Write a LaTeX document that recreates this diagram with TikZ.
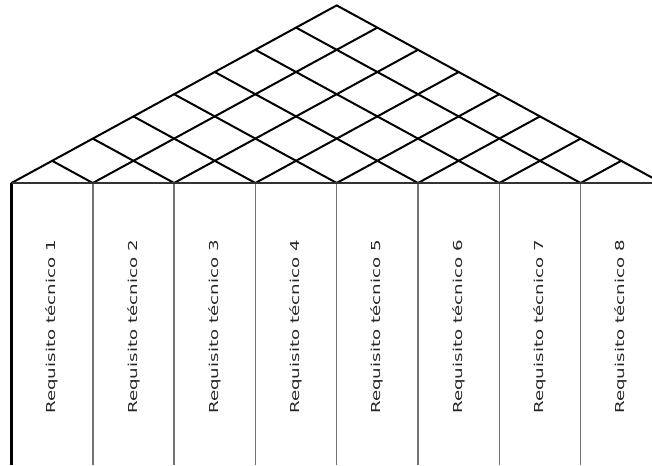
\documentclass[tikz,border=0pt]{standalone}
\usepackage{fontspec}
\setmainfont{DejaVu Sans}
\begin{document}
\begin{tikzpicture}[x=1pt,y=-1pt,
  roof/.style={line width=2pt, black, line cap=round},
  baseline rule/.style={line width=2.6pt, black!80},
  outer wall/.style={line width=2.2pt, black},
  divider/.style={line width=1.4pt, black!55},
  reqlabel/.style={rotate=90, inner sep=0pt, text=black!85,
    font=\fontsize{12.3}{14}\selectfont}]
\useasboundingbox (0,0) rectangle (652,465);
\begin{scope}
\clip (0,0) rectangle (652,465);
% column width, half-height of a roof cell, left edge, roof base
\def\w{81.3}
\def\h{22.2}
\def\xo{11.5}
\def\yb{183}
% roof lattice: from every column boundary a line rises to each side
\foreach \i in {0,...,8} {
  \coordinate (b\i) at (\xo+\i*\w, \yb);
  \pgfmathsetmacro\r{8-\i}
  \draw[roof] (b\i) -- ++(\r*\w/2, -\r*\h);
  \draw[roof] (b\i) -- ++(-\i*\w/2, -\i*\h);
}
% column dividers
\foreach \i in {1,...,7} {
  \coordinate (t\i) at (\xo+\i*\w, 465);
  \draw[divider] (b\i) -- (t\i);
}
\coordinate (t0) at (\xo, 465);
\draw[outer wall] (b0) -- (t0);
\draw[baseline rule] (b0) -- (b8);
% technical requirement labels
\foreach \i in {1,...,8} {
  \node[reqlabel] (req\i) at (\xo+\i*\w-\w/2, 327)
    {\scalebox{1.48}[1]{Requisito técnico \i}};
}
\end{scope}
\end{tikzpicture}
\end{document}
